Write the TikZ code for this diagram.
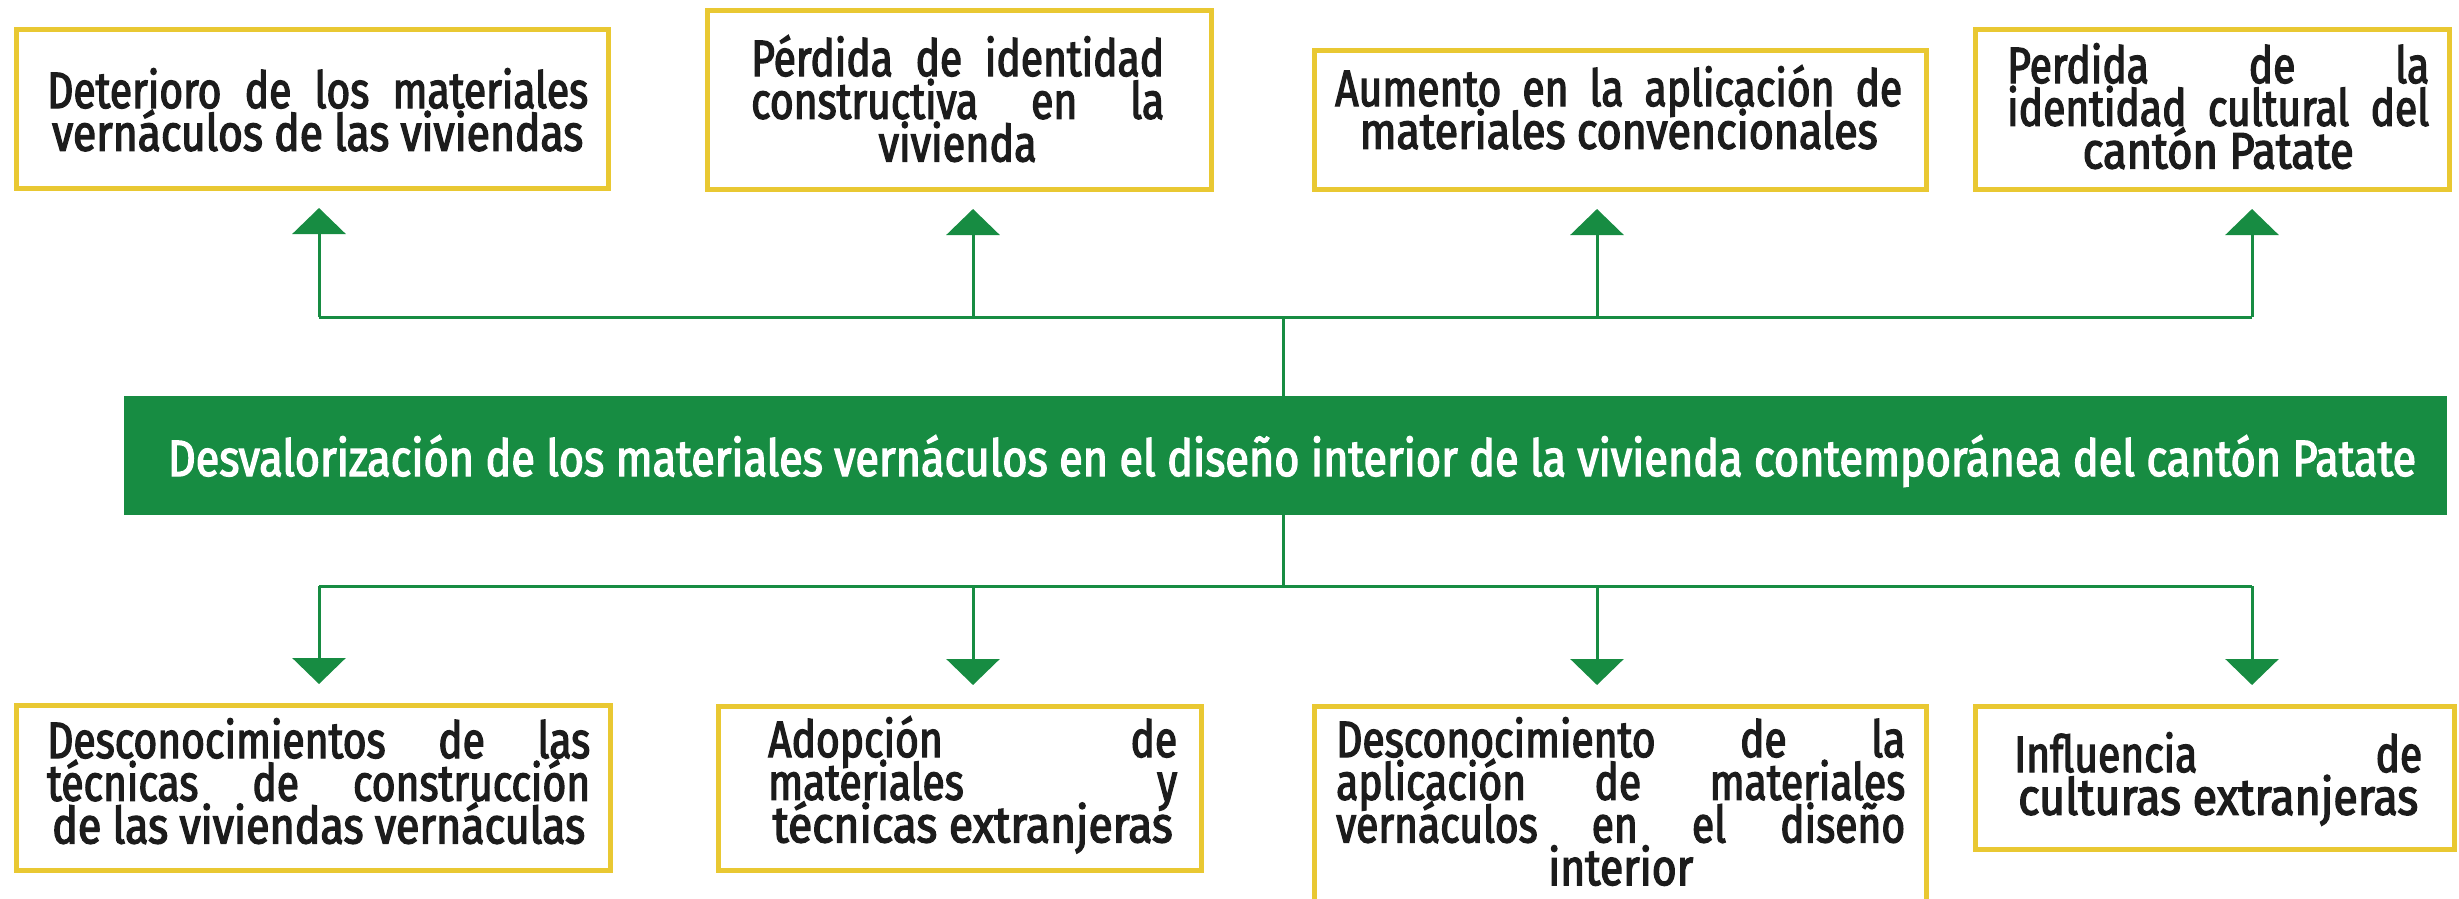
\documentclass[tikz,border=0pt]{standalone}
\usepackage{fontspec}
\usepackage{graphicx}
\usetikzlibrary{arrows.meta}
\newfontfamily\boxfont{Fira Sans}[FakeStretch=0.8,FakeBold=2.5]
\definecolor{ybord}{RGB}{233,200,50}
\definecolor{gfill}{RGB}{23,140,66}
\definecolor{ink}{RGB}{28,28,28}
\newlength\natw
% justified line of exact width
\newcommand\JLine[2]{\settowidth\natw{#2}\ifdim\natw>#1\relax\resizebox{#1}{\height}{#2}\else\makebox[#1][s]{#2}\fi}
% line fitted to an exact width
\newcommand\FLine[2]{\resizebox{#1}{\height}{#2}}
% lines of a block
\newcommand\JL[2]{\hbox to #1{\JLine{#1}{#2}}}
\newcommand\CL[3]{\hbox to #1{\hss\FLine{#2}{#3}\hss}}
\newcommand\Block[1]{\vtop{\baselineskip=42.7pt\lineskiplimit=-200pt\lineskip=0pt #1}}
\begin{document}
\begin{tikzpicture}[x=1pt,y=-1pt,
  ybox/.style={draw=ybord,line width=5pt,inner sep=0pt,fill=white},
  gbox/.style={fill=gfill,draw=none,inner sep=0pt},
  txt/.style={font=\boxfont\fontsize{51}{43}\selectfont,text=ink,inner sep=0pt,anchor=base west},
  ttxt/.style={font=\boxfont\fontsize{51}{43}\selectfont,text=white,inner sep=0pt,anchor=base},
  bus/.style={draw=gfill,line width=3pt,line cap=square},
  arr/.style={draw=gfill,line width=3pt,-{Triangle[width=53pt,length=26pt]}}]
\useasboundingbox (0,0) rectangle (2459,899);
\clip (0,0) rectangle (2459,899);
% boxes
\node[ybox,minimum width=592pt,minimum height=159pt] (b1) at (312.5,109) {};
\node[ybox,minimum width=504pt,minimum height=179pt] (b2) at (959.5,100) {};
\node[ybox,minimum width=612pt,minimum height=139pt] (b3) at (1620.5,120) {};
\node[ybox,minimum width=474pt,minimum height=160pt] (b4) at (2212.5,109.5) {};
\node[gbox,minimum width=2323pt,minimum height=119pt] (g) at (1285.5,455.5) {};
\node[ybox,minimum width=594pt,minimum height=165pt] (b5) at (313.5,788) {};
\node[ybox,minimum width=483pt,minimum height=164pt] (b6) at (960,788.5) {};
\node[ybox,minimum width=612pt,minimum height=251pt] (b7) at (1620.5,832) {};
\node[ybox,minimum width=479pt,minimum height=143pt] (b8) at (2215,778) {};
% title
\node[ttxt] (tt) at (1292,476) {\FLine{2248pt}{Desvalorización de los materiales vernáculos en el diseño interior de la vivienda contemporánea del cantón Patate}};
% box texts
\node[txt] (t1) at (47,108) {\Block{\JL{541pt}{Deterioro de los materiales}\CL{541pt}{531pt}{vernáculos de las viviendas}}};
\node[txt] (t2) at (751,76) {\Block{\JL{413pt}{Pérdida de identidad}\JL{413pt}{constructiva en la}\CL{413pt}{158pt}{vivienda}}};
\node[txt] (t3) at (1335,106) {\Block{\JL{567pt}{Aumento en la aplicación de}\CL{567pt}{518pt}{materiales convencionales}}};
\node[txt] (t4) at (2007,83) {\Block{\JL{422pt}{Perdida de la}\JL{422pt}{identidad cultural del}\CL{422pt}{271pt}{cantón Patate}}};
\node[txt] (t5) at (47,758) {\Block{\JL{543pt}{Desconocimientos de las}\JL{543pt}{técnicas de construcción}\CL{543pt}{533pt}{de las viviendas vernáculas}}};
\node[txt] (t6) at (768,757) {\Block{\JL{409pt}{Adopción de}\JL{409pt}{materiales y}\CL{409pt}{400pt}{técnicas extranjeras}}};
\node[txt] (t7) at (1336,757) {\Block{\JL{569pt}{Desconocimiento de la}\JL{569pt}{aplicación de materiales}\JL{569pt}{vernáculos en el diseño}\CL{569pt}{145pt}{interior}}};
\node[txt] (t8) at (2014,772) {\Block{\JL{408pt}{Influencia de}\CL{408pt}{400pt}{culturas extranjeras}}};
% connectors
\coordinate (tj) at (1283,317);
\coordinate (bj) at (1283,586);
\coordinate (u1) at (319,317);
\coordinate (u2) at (973,317);
\coordinate (u3) at (1597,317);
\coordinate (u4) at (2252,317);
\coordinate (d1) at (319,586);
\coordinate (d2) at (973,586);
\coordinate (d3) at (1597,586);
\coordinate (d4) at (2252,586);
\draw[bus] (tj |- g.north) -- (tj);
\draw[bus] (u1) -- (u4);
\draw[bus] (tj |- g.south) -- (bj);
\draw[bus] (d1) -- (d4);
\draw[arr,shorten >=17pt] (u1) -- (u1 |- b1.south);
\draw[arr,shorten >=17pt] (u2) -- (u2 |- b2.south);
\draw[arr,shorten >=17pt] (u3) -- (u3 |- b3.south);
\draw[arr,shorten >=17pt] (u4) -- (u4 |- b4.south);
\draw[arr,shorten >=19pt] (d1) -- (d1 |- b5.north);
\draw[arr,shorten >=19pt] (d2) -- (d2 |- b6.north);
\draw[arr,shorten >=19pt] (d3) -- (d3 |- b7.north);
\draw[arr,shorten >=19pt] (d4) -- (d4 |- b8.north);
\end{tikzpicture}
\end{document}
